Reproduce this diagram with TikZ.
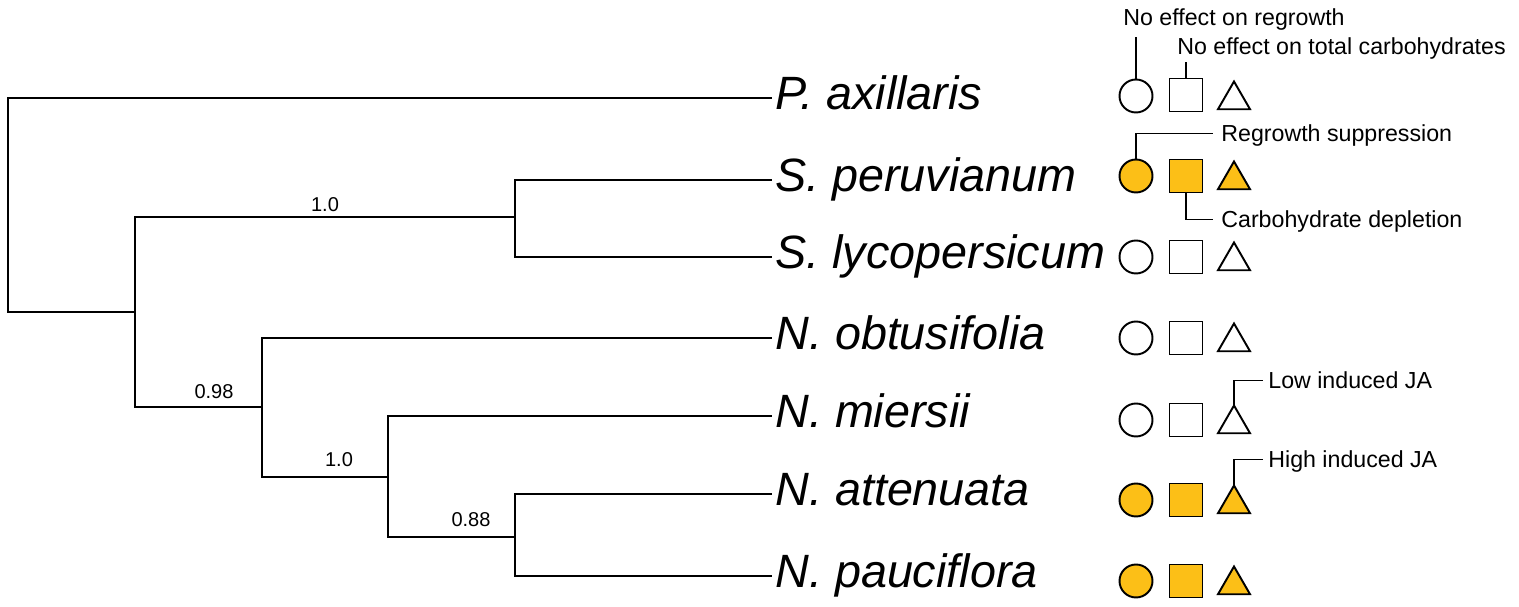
\documentclass[tikz,border=0pt]{standalone}
\usepackage{fontspec}
\setmainfont{Liberation Sans}
\usepackage{tikz}
\usetikzlibrary{shapes.geometric, backgrounds}
\definecolor{hitcol}{HTML}{FCBF17}

\begin{document}
\begin{tikzpicture}[
  x=0.02cm, y=-0.02cm,
  branch/.style={line width=1.5pt, line join=miter},
  taxon/.style={anchor=base west, inner sep=0pt, font=\fontsize{26.6}{30}\selectfont\itshape},
  supp/.style={anchor=base, inner sep=0pt, font=\fontsize{11.4}{13}\selectfont},
  sym/.style={draw, line width=1.1pt, inner sep=0pt, outer sep=0pt, fill=white},
  rgr/.style={sym, circle, minimum size=0.66cm},
  carb/.style={sym, rectangle, minimum size=0.66cm},
  ja/.style={sym, regular polygon, regular polygon sides=3, minimum size=0.74cm},
  hit/.style={fill=hitcol},
  note/.style={anchor=base west, inner sep=0pt, text depth=0pt, font=\fontsize{13.2}{15}\selectfont},
  lead/.style={line width=0.7pt},
]
  \useasboundingbox (0,0) rectangle (1519,607);

  % Tree
  \coordinate (root)   at (8,205);
  \coordinate (solnic) at (135,312);
  \coordinate (sol)    at (515,217);
  \coordinate (nic)    at (262,407);
  \coordinate (nic2)   at (388,477);
  \coordinate (nic3)   at (515,537);
  \coordinate (tpax) at (772,98);
  \coordinate (tper) at (772,180);
  \coordinate (tlyc) at (772,257);
  \coordinate (tobt) at (772,338);
  \coordinate (tmie) at (772,416);
  \coordinate (tatt) at (772,494);
  \coordinate (tpau) at (772,576);

  \draw[branch] (root) |- (tpax);
  \draw[branch] (root) |- (solnic);
  \draw[branch] (solnic) |- (sol);
  \draw[branch] (solnic) |- (nic);
  \draw[branch] (sol) |- (tper);
  \draw[branch] (sol) |- (tlyc);
  \draw[branch] (nic) |- (tobt);
  \draw[branch] (nic) |- (nic2);
  \draw[branch] (nic2) |- (tmie);
  \draw[branch] (nic2) |- (nic3);
  \draw[branch] (nic3) |- (tatt);
  \draw[branch] (nic3) |- (tpau);

  \node[supp] (bs1) at (325,212) {1.0};
  \node[supp] (bs2) at (214,399) {0.98};
  \node[supp] (bs3) at (339,467) {1.0};
  \node[supp] (bs4) at (471,527) {0.88};

  % Species
  \node[taxon] (pax) at (775,110) {P. axillaris};
  \node[taxon] (per) at (775,192) {S. peruvianum};
  \node[taxon] (lyc) at (775,269) {S. lycopersicum};
  \node[taxon] (obt) at (775,350) {N. obtusifolia};
  \node[taxon] (mie) at (775,428) {N. miersii};
  \node[taxon] (att) at (775,506) {N. attenuata};
  \node[taxon] (pau) at (775,588) {N. pauciflora};

  % Symbols
  \node[rgr] (rpax) at (1136,96) {};      \node[carb] (cpax) at (1186,95) {};      \node[ja] (jpax) at (1234,100) {};
  \node[rgr, hit] (rper) at (1136,176) {}; \node[carb, hit] (cper) at (1186,176) {}; \node[ja, hit] (jper) at (1234,180) {};
  \node[rgr] (rlyc) at (1136,257) {};      \node[carb] (clyc) at (1186,257) {};      \node[ja] (jlyc) at (1234,261) {};
  \node[rgr] (robt) at (1136,338) {};      \node[carb] (cobt) at (1186,338) {};      \node[ja] (jobt) at (1234,342) {};
  \node[rgr] (rmie) at (1136,420) {};      \node[carb] (cmie) at (1186,420) {};      \node[ja] (jmie) at (1234,424) {};
  \node[rgr, hit] (ratt) at (1136,500) {}; \node[carb, hit] (catt) at (1186,500) {}; \node[ja, hit] (jatt) at (1234,504) {};
  \node[rgr, hit] (rpau) at (1136,581) {}; \node[carb, hit] (cpau) at (1186,581) {}; \node[ja, hit] (jpau) at (1234,585) {};

  % Callouts
  \node[note] (noreg)   at (1123,26)  {No effect on regrowth};
  \node[note] (nocarb)  at (1177,55)  {No effect on total carbohydrates};
  \node[note] (supreg)  at (1221,142) {Regrowth suppression};
  \node[note] (depcarb) at (1221,228) {Carbohydrate depletion};
  \node[note] (lowja)   at (1268,389) {Low induced JA};
  \node[note] (highja)  at (1268,468) {High induced JA};
  \coordinate (knr) at (1136,37);
  \coordinate (knc) at (1186,62);

  \begin{scope}[on background layer]
    \draw[lead] (rpax.north) -- (knr);
    \draw[lead] (cpax.north) -- (knc);
    \draw[lead] (rper.north) |- ([xshift=-0.16cm]supreg.west);
    \draw[lead] (cper.south) |- ([xshift=-0.16cm]depcarb.west);
    \draw[lead] (jmie.corner 1) |- ([xshift=-0.1cm]lowja.west);
    \draw[lead] (jatt.corner 1) |- ([xshift=-0.1cm]highja.west);
  \end{scope}
\end{tikzpicture}
\end{document}
